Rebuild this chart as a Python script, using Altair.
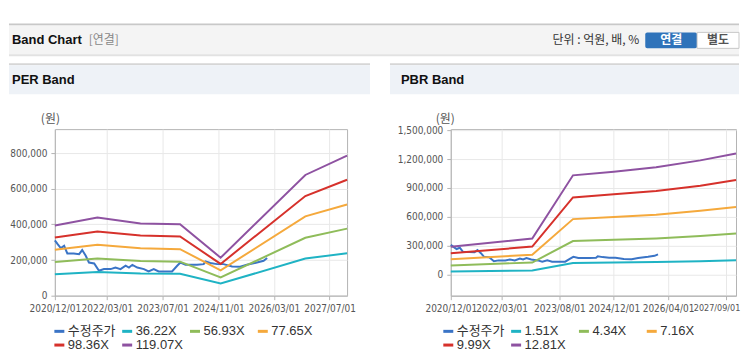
import altair as alt
import pandas as pd

# ---------------- data ----------------
PRICE = "수정주가"

price_dates = ["2020-12-01", "2020-12-25", "2021-01-22", "2021-02-20", "2021-03-20", "2021-05-15",
               "2021-07-01", "2021-07-28", "2021-08-28", "2021-09-25", "2021-11-10", "2021-12-22",
               "2022-02-03", "2022-04-03", "2022-05-15", "2022-06-28", "2022-08-12", "2022-09-10",
               "2022-10-10", "2022-11-22", "2023-01-19", "2023-03-01", "2023-04-15", "2023-05-28",
               "2023-07-25", "2023-09-22", "2023-11-06", "2023-12-04", "2024-01-18", "2024-04-28",
               "2024-06-25", "2024-07-10", "2024-08-22", "2024-10-20", "2024-12-16", "2025-02-28",
               "2025-05-10", "2025-07-07", "2025-10-04", "2025-12-01", "2026-01-01"]
price_values = [310000, 289000, 267000, 280000, 237000, 237000,
                233000, 256000, 224000, 186000, 181000, 140000,
                149000, 149000, 158000, 149000, 168000, 158000,
                173000, 158000, 149000, 136000, 149000, 136000,
                136000, 136000, 168000, 186000, 173000, 173000,
                177000, 192000, 183000, 177000, 177000, 164000,
                162000, 173000, 186000, 196000, 211000]

per_dates = ["2020-12-01", "2021-12-08", "2022-12-20", "2023-12-01", "2024-11-20", "2026-12-01", "2027-12-01"]
per_labels = ["36.22X", "56.93X", "77.65X", "98.36X", "119.07X"]
per_3622 = [120000, 133000, 125000, 123000, 68000, 208000, 238000]
per_5693 = [189000, 208000, 195000, 191000, 102000, 325000, 376000]
per_7765 = [257000, 285000, 266000, 261000, 142000, 445000, 511000]
per_9836 = [326000, 360000, 338000, 332000, 178000, 559000, 650000]
per_11907 = [394000, 438000, 405000, 401000, 213000, 677000, 786000]

pbr_dates = ["2020-12-01", "2022-12-01", "2023-12-01", "2024-12-01", "2025-12-15", "2027-01-15", "2027-12-01"]
pbr_labels = ["1.51X", "4.34X", "7.16X", "9.99X", "12.81X"]
pbr_151 = [34000, 44000, 121000, 126000, 132000, 140000, 150000]
pbr_434 = [97000, 127000, 349000, 362000, 377000, 401000, 428000]
pbr_716 = [160000, 208000, 577000, 598000, 622000, 663000, 703000]
pbr_999 = [224000, 292000, 802000, 834000, 868000, 924000, 983000]
pbr_1281 = [290000, 376000, 1031000, 1069000, 1115000, 1186000, 1257000]

per_y_ticks = [0, 200000, 400000, 600000, 800000]
pbr_y_ticks = [0, 300000, 600000, 900000, 1200000, 1500000]
per_x_ticks = [(2020, 12), (2022, 3), (2023, 7), (2024, 11), (2026, 3), (2027, 7)]
pbr_x_ticks = [(2020, 12), (2022, 3), (2023, 8), (2024, 12), (2026, 4), (2027, 9)]

header_title = "Band Chart"
header_sub = "[연결]"
unit_text = "단위 : 억원, 배, %"
btn_on = "연결"
btn_off = "별도"
per_title = "PER Band"
pbr_title = "PBR Band"
y_unit = "(원)"

COLORS = ["#3a74c6", "#1fb3c4", "#8fbc5a", "#f5a93c", "#d6312b", "#8e52a1"]
AX_FONT = "Liberation Sans Narrow, DejaVu Sans Condensed, Liberation Sans, Arial, sans-serif"
TX_FONT = "Liberation Sans, Noto Sans CJK KR, sans-serif"
KR_FONT = "Noto Sans CJK KR, Liberation Sans, sans-serif"


def long_df(dates, labels, series):
    rows = []
    for d, v in zip(price_dates, price_values):
        rows.append({"date": d, "series": PRICE, "value": v})
    for lab, vals in zip(labels, series):
        for d, v in zip(dates, vals):
            rows.append({"date": d, "series": lab, "value": v})
    return pd.DataFrame(rows)


per_df = long_df(per_dates, per_labels, [per_3622, per_5693, per_7765, per_9836, per_11907])
pbr_df = long_df(pbr_dates, pbr_labels, [pbr_151, pbr_434, pbr_716, pbr_999, pbr_1281])

ONE = pd.DataFrame({"a": [0]})


def rect(x1, x2, y1, y2, fill, stroke=None, radius=0):
    kw = dict(color=fill)
    if stroke:
        kw["stroke"] = stroke
        kw["strokeWidth"] = 1
    if radius:
        kw["cornerRadius"] = radius
    return alt.Chart(ONE).mark_rect(**kw).encode(
        x=alt.value(x1), x2=alt.value(x2), y=alt.value(y1), y2=alt.value(y2))


def label(text, x, y, size, color="#111", weight="normal", align="left", font=TX_FONT):
    return alt.Chart(pd.DataFrame({"t": [text]})).mark_text(
        align=align, baseline="middle", fontSize=size, fontWeight=weight, color=color, font=font
    ).encode(x=alt.value(x), y=alt.value(y), text="t:N")


W_L, W_R, H = 293, 286, 167


def band_chart(df, labels, width, y_domain, y_ticks, x_ticks, legend_x, title_x, last_flush=False):
    axis_kw = dict(values=[alt.DateTime(year=y, month=m, date=1) for y, m in x_ticks],
                   format="%Y/%m/%d", title=None, labelOverlap=False, labelFlush=False, grid=True)
    if last_flush:
        # last label would run off the page: end it at the page edge
        last = "datum.value > 1815000000000"
        axis_kw["labelAlign"] = {"condition": {"test": last, "value": "right"}, "value": "center"}
        axis_kw["labelOffset"] = {"condition": {"test": last, "value": 14}, "value": 0}
        axis_kw["labelFontSize"] = {"condition": {"test": last, "value": 9}, "value": 10}
    x = alt.X("date:T",
              scale=alt.Scale(domain=[alt.DateTime(year=2020, month=12, date=1),
                                      alt.DateTime(year=2027, month=12, date=1)]),
              axis=alt.Axis(**axis_kw))
    y = alt.Y("value:Q",
              scale=alt.Scale(domain=y_domain, nice=False, zero=False),
              axis=alt.Axis(values=y_ticks, format=",d", title=y_unit, titleAngle=0,
                            titleX=title_x, titleY=-11, titleAlign="center", titleBaseline="middle",
                            titleFont=KR_FONT, titleFontSize=12, titleFontWeight="normal",
                            titleColor="#555", grid=True))
    color = alt.Color("series:N",
                      scale=alt.Scale(domain=[PRICE] + labels, range=COLORS),
                      legend=alt.Legend(orient="none", direction="horizontal",
                                        legendX=legend_x, legendY=196, columns=4,
                                        symbolType="stroke", symbolStrokeWidth=3, symbolSize=100,
                                        labelFontSize=13, labelFont=TX_FONT, labelColor="#333",
                                        title=None, rowPadding=-1, columnPadding=0, gridAlign="all",
                                        labelOffset=2, padding=0))
    lines = alt.Chart(df).mark_line(strokeWidth=2).encode(x=x, y=y, color=color)
    return lines.properties(width=width, height=H)


# left panel (plot origin at page (54,128)); right panel plot origin at page (451,128)
left_deco = [
    rect(-46, 686, -106, -104, "#c8c8c8"),
    rect(-46, 686, -104, -75, "#f4f4f4"),
    rect(-46, 686, -75, -73, "#e2e2e2"),
    label(header_title, -43, -89, 13, weight="bold"),
    label(header_sub, 34, -89, 12, color="#888", font=KR_FONT),
    label(unit_text, 586, -89, 12, color="#333", align="right", font=KR_FONT),
    rect(592, 644, -97, -81, "#2f73ba", radius=2),
    label(btn_on, 618, -89, 12, color="#ffffff", weight="bold", align="center", font=KR_FONT),
    rect(644, 686, -97, -81, "#ffffff", stroke="#c8c8c8"),
    label(btn_off, 665, -89, 12, color="#555", weight="bold", align="center", font=KR_FONT),
    rect(-46, 316, -66, -64, "#d6d6d6"),
    rect(-46, 316, -64, -35, "#eef2f7"),
    label(per_title, -43, -49, 13, weight="bold"),
]
right_deco = [
    rect(-61, 289, -66, -64, "#d6d6d6"),
    rect(-61, 289, -64, -35, "#eef2f7"),
    label(pbr_title, -50, -49, 13, weight="bold"),
]

left = alt.layer(*left_deco,
                 band_chart(per_df, per_labels, W_L, [0, 934000], per_y_ticks, per_x_ticks, -2, -5)
                 ).properties(width=W_L, height=H)
right = alt.layer(*right_deco,
                  band_chart(pbr_df, pbr_labels, W_R, [-217000, 1510000], pbr_y_ticks, pbr_x_ticks,
                             -9, -6, last_flush=True)
                  ).properties(width=W_R, height=H)

chart = alt.hconcat(left, right, spacing=104).resolve_scale(color="independent").properties(
    bounds="flush",
    padding={"left": 0, "top": 14, "right": 0, "bottom": 0},
).configure_view(stroke="#b4b4b4").configure_axis(
    domainColor="#b4b4b4", tickColor="#b4b4b4", gridColor="#e8e8e8",
    labelColor="#555", labelFont=AX_FONT, labelFontSize=10, tickSize=4, labelPadding=4,
)

chart.save("out.html", embed_options={"renderer": "svg", "actions": False})
